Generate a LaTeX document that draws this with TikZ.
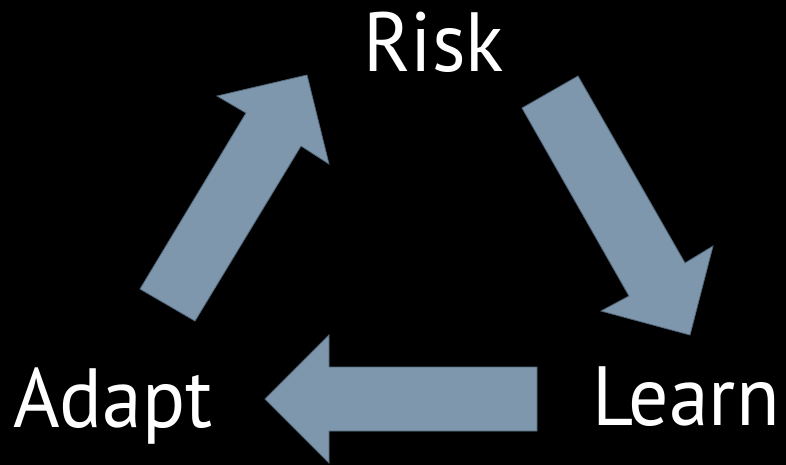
\documentclass[tikz,border=0pt]{standalone}
\usepackage{fontspec}
\setmainfont{PT Sans}
\definecolor{arrfill}{HTML}{7F97AD}
\definecolor{arrline}{HTML}{51677A}
\newcommand{\narrowtext}[1]{\scalebox{0.95}[1]{#1}}
\begin{document}
\begin{tikzpicture}[x=1pt,y=-1pt,
  blockarrow/.style={fill=arrfill,draw=arrline,line width=0.8pt,line join=miter},
  label/.style={text=white,anchor=base west,inner sep=0pt,font=\fontsize{84}{90}\selectfont}]
\fill[black] (0,0) rectangle (786,465);
\useasboundingbox (0,0) rectangle (786,465);
% upper-left arrow (Adapt -> Risk)
\draw[blockarrow] (195,321) -- (140,289) -- (246,113) -- (217,96) -- (307,75) -- (329,164) -- (301,146) -- cycle;
% right arrow (Risk -> Learn)
\draw[blockarrow] (522,108) -- (578,76) -- (685,263) -- (713,246) -- (690,335) -- (601,311) -- (629,296) -- cycle;
% bottom arrow (Learn -> Adapt)
\draw[blockarrow] (537,367) -- (537,431) -- (329,431) -- (329,463) -- (265,399) -- (329,335) -- (329,367) -- cycle;
\node[label] (risk) at (363,72) {\narrowtext{Risk}};
\node[label] (adapt) at (13,427) {\narrowtext{Adapt}};
\node[label] (learn) at (592,425) {\narrowtext{Learn}};
\end{tikzpicture}
\end{document}
